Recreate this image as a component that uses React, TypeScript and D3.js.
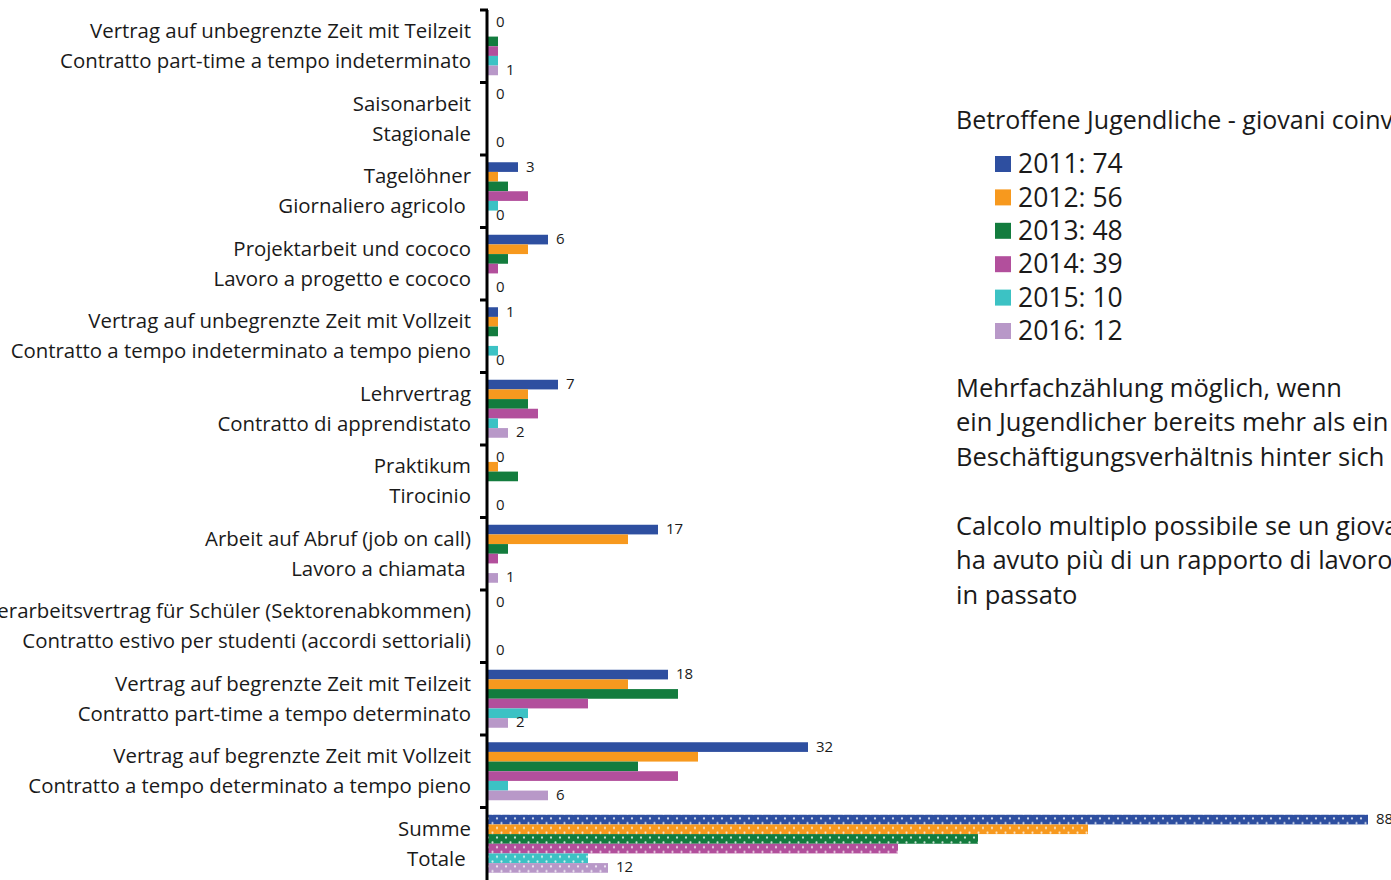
import { useRef, useEffect } from 'react';
import * as d3 from 'd3';

// category labels, German / Italian line
const labelsDe = [
  'Vertrag auf unbegrenzte Zeit mit Teilzeit',
  'Saisonarbeit',
  'Tagelöhner',
  'Projektarbeit und cococo',
  'Vertrag auf unbegrenzte Zeit mit Vollzeit',
  'Lehrvertrag',
  'Praktikum',
  'Arbeit auf Abruf (job on call)',
  'Sommerarbeitsvertrag für Schüler (Sektorenabkommen)',
  'Vertrag auf begrenzte Zeit mit Teilzeit',
  'Vertrag auf begrenzte Zeit mit Vollzeit',
  'Summe',
];
const labelsIt = [
  'Contratto part-time a tempo indeterminato',
  'Stagionale',
  'Giornaliero agricolo ',
  'Lavoro a progetto e cococo',
  'Contratto a tempo indeterminato a tempo pieno',
  'Contratto di apprendistato',
  'Tirocinio',
  'Lavoro a chiamata ',
  'Contratto estivo per studenti (accordi settoriali)',
  'Contratto part-time a tempo determinato',
  'Contratto a tempo determinato a tempo pieno',
  'Totale ',
];

const years = ['2011', '2012', '2013', '2014', '2015', '2016'];
const legendTotals = [74, 56, 48, 39, 10, 12];

const v2011 = [0, 0, 3, 6, 1, 7, 0, 17, 0, 18, 32, 88];
const v2012 = [0, 0, 1, 4, 1, 4, 1, 14, 0, 14, 21, 60];
const v2013 = [1, 0, 2, 2, 1, 4, 3, 2, 0, 19, 15, 49];
const v2014 = [1, 0, 4, 1, 0, 5, 0, 1, 0, 10, 19, 41];
const v2015 = [1, 0, 1, 0, 1, 1, 0, 0, 0, 4, 2, 10];
const v2016 = [1, 0, 0, 0, 0, 2, 0, 1, 0, 2, 6, 12];

const colors = ['#2e4fa0', '#f7991e', '#137c3e', '#b24f9c', '#3cc2c4', '#b898c8'];

const noteDe = ['Mehrfachzählung möglich, wenn', 'ein Jugendlicher bereits mehr als ein', 'Beschäftigungsverhältnis hinter sich hat'];
const noteIt = ['Calcolo multiplo possibile se un giovane', 'ha avuto più di un rapporto di lavoro', 'in passato'];

const App = () => {
  const svgRef = useRef(null);

  useEffect(() => {
    const width = 1391;
    const height = 880;
    const font = '"Open Sans", sans-serif';
    const textColor = '#1a1a1a';
    const series = [v2011, v2012, v2013, v2014, v2015, v2016];

    const svg = d3.select(svgRef.current);
    svg.selectAll('*').remove();

    // dotted patterns for the totals row
    const defs = svg.append('defs');
    colors.forEach((c, i) => {
      const p = defs.append('pattern')
        .attr('id', `dots${i}`)
        .attr('patternUnits', 'userSpaceOnUse')
        .attr('width', 9)
        .attr('height', 9.6);
      p.append('rect').attr('width', 9).attr('height', 9.6).attr('fill', c);
      p.append('circle').attr('cx', 2).attr('cy', 2.4).attr('r', 1.1).attr('fill', '#fff').attr('opacity', 0.8);
      p.append('circle').attr('cx', 6.5).attr('cy', 7.2).attr('r', 1.1).attr('fill', '#fff').attr('opacity', 0.8);
    });

    const x0 = 488;
    const xScale = d3.scaleLinear().domain([0, 88]).range([x0, x0 + 880]);

    const yScale = d3.scaleBand()
      .domain(labelsDe.map((_, i) => String(i)))
      .range([10, height])
      .padding(0);

    const ySub = d3.scaleBand()
      .domain(years)
      .range([0, yScale.bandwidth()])
      .paddingInner(0)
      .paddingOuter(0.75);

    // bars
    series.forEach((vals, s) => {
      svg.append('g')
        .selectAll('rect')
        .data(vals)
        .enter()
        .append('rect')
        .attr('x', x0)
        .attr('y', (d, i) => yScale(String(i)) + ySub(years[s]))
        .attr('width', d => xScale(d) - x0)
        .attr('height', ySub.bandwidth())
        .attr('fill', (d, i) => (i === labelsDe.length - 1 ? `url(#dots${s})` : colors[s]));
    });

    // value labels for first and last series
    [0, 5].forEach(s => {
      svg.append('g')
        .selectAll('text')
        .data(series[s])
        .enter()
        .append('text')
        .text(d => d)
        .attr('x', d => xScale(d) + 8)
        .attr('y', (d, i) => yScale(String(i)) + ySub(years[s]) + ySub.bandwidth() / 2)
        .attr('dy', '0.3em')
        .attr('font-family', font)
        .attr('font-size', 15)
        .attr('fill', textColor);
    });

    // axis line + ticks at band boundaries
    const axis = svg.append('g');
    axis.append('line')
      .attr('x1', x0 - 1).attr('x2', x0 - 1)
      .attr('y1', 10).attr('y2', height)
      .attr('stroke', '#000').attr('stroke-width', 3);
    const bounds = labelsDe.map((_, i) => yScale(String(i)));
    axis.selectAll('line.tick')
      .data(bounds)
      .enter()
      .append('line')
      .attr('class', 'tick')
      .attr('x1', x0 - 8).attr('x2', x0)
      .attr('y1', d => d).attr('y2', d => d)
      .attr('stroke', '#000').attr('stroke-width', 3);

    // category labels
    const cat = svg.append('g')
      .attr('font-family', font)
      .attr('font-size', 20.4)
      .attr('fill', textColor)
      .attr('text-anchor', 'end');
    labelsDe.forEach((de, i) => {
      const cy = yScale(String(i)) + yScale.bandwidth() / 2;
      cat.append('text').attr('x', 471).attr('y', cy - 15).attr('dy', '0.35em').text(de);
      cat.append('text').attr('x', 471).attr('y', cy + 15).attr('dy', '0.35em').attr('xml:space', 'preserve').text(labelsIt[i]);
    });

    // legend
    const lg = svg.append('g').attr('font-family', font).attr('fill', textColor);
    lg.append('text')
      .attr('x', 956).attr('y', 120).attr('dy', '0.35em')
      .attr('font-size', 25)
      .text('Betroffene Jugendliche - giovani coinvolti');
    years.forEach((y, i) => {
      const cy = 164 + i * 33.4;
      lg.append('rect')
        .attr('x', 995).attr('y', cy - 8)
        .attr('width', 16).attr('height', 16)
        .attr('fill', colors[i]);
      lg.append('text')
        .attr('x', 1018).attr('y', cy).attr('dy', '0.35em')
        .attr('font-size', 26.5)
        .text(`${y}: ${legendTotals[i]}`);
    });

    // notes
    noteDe.forEach((t, i) => {
      lg.append('text')
        .attr('x', 956).attr('y', 388 + i * 34.5).attr('dy', '0.35em')
        .attr('font-size', 25.5)
        .text(t);
    });
    noteIt.forEach((t, i) => {
      lg.append('text')
        .attr('x', 956).attr('y', 526 + i * 34.5).attr('dy', '0.35em')
        .attr('font-size', 25.5)
        .text(t);
    });
  }, []);

  return (
    <svg ref={svgRef} width={1391} height={880}
      style={{ position: 'absolute', left: 0, top: 0, background: '#fff' }}>
    </svg>
  );
};

export default App;
